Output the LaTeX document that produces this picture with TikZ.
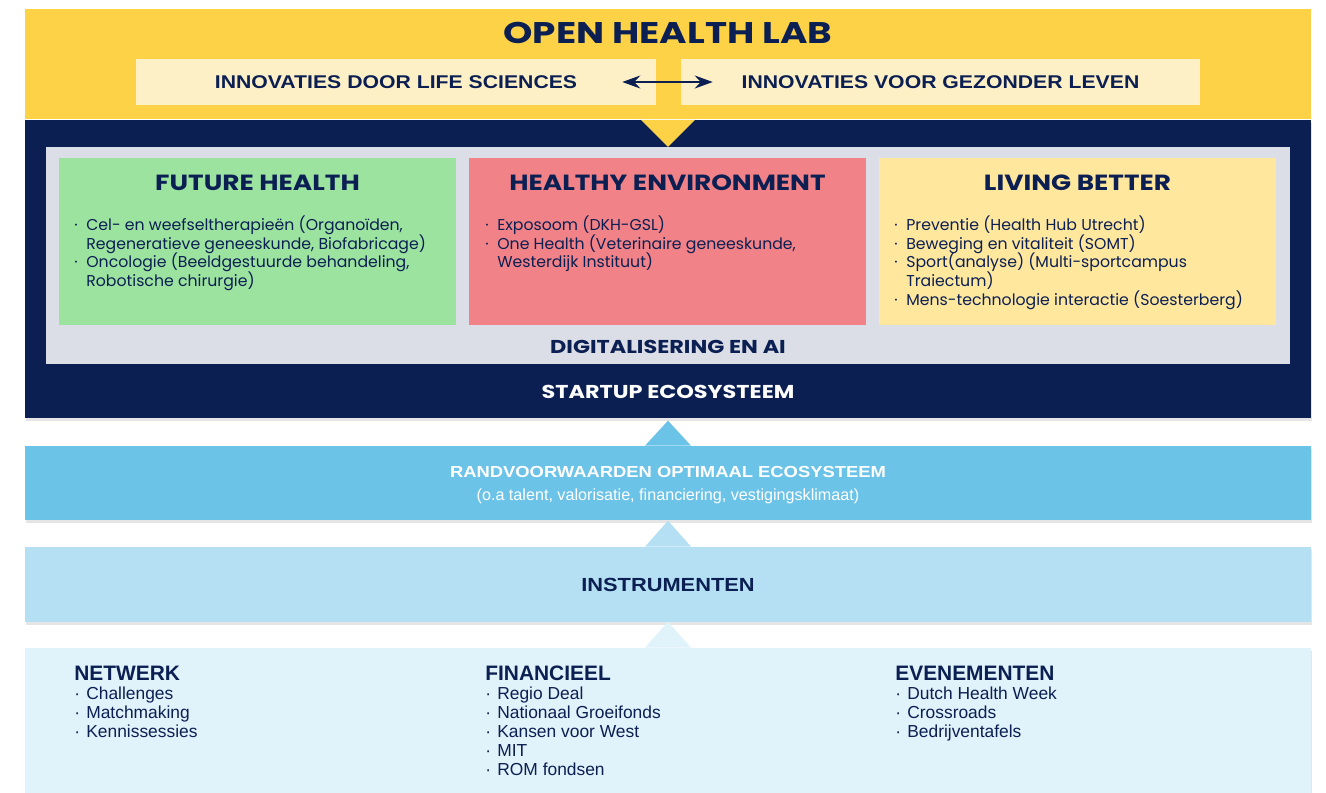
\documentclass[tikz,border=0pt]{standalone}
\usepackage{fontspec}
\setmainfont{Poppins}
\newfontfamily\kopfont[FakeStretch=1.2]{Poppins}
\newfontfamily\titelfont[FakeStretch=1.25]{Poppins}
\newfontfamily\smalfont{Liberation Sans}
\newfontfamily\breedfont[FakeStretch=1.15]{Liberation Sans}
\usetikzlibrary{arrows.meta,shadows}

\definecolor{ohlgeel}{HTML}{FDD247}
\definecolor{ohllichtgeel}{HTML}{FEF0C6}
\definecolor{ohlnavy}{HTML}{0B1F52}
\definecolor{ohlgrijs}{HTML}{DBDEE6}
\definecolor{ohlgroen}{HTML}{9DE3A0}
\definecolor{ohlrood}{HTML}{F18287}
\definecolor{ohlzand}{HTML}{FFE79E}
\definecolor{ohlblauw}{HTML}{6CC3E8}
\definecolor{ohlmidblauw}{HTML}{B5E0F3}
\definecolor{ohllichtblauw}{HTML}{E0F2FA}

\newcommand{\bul}{\makebox[0.24cm][l]{·}}
\newcommand{\ind}{\makebox[0.24cm]{}}
\newcommand{\krap}{\setlength{\lineskiplimit}{-20pt}}

\begin{document}
\begin{tikzpicture}[x=0.02cm,y=-0.02cm]

      \tikzset{blok/.style={rectangle, inner sep=0pt, draw=none},
               schaduw/.style={drop shadow={shadow xshift=0.02cm, shadow yshift=-0.06cm, opacity=0.1, fill=black}},
               titel/.style={font=\kopfont\bfseries\fontsize{12.5}{14}\selectfont, text=ohlnavy},
               punten/.style={anchor=north west, align=left, inner sep=0pt, text=ohlnavy, font=\krap\fontsize{8.95}{10.8}\selectfont},
               lijst/.style={anchor=north west, align=left, inner sep=0pt, text=ohlnavy, font=\smalfont\fontsize{9.9}{10.8}\selectfont}}
      \useasboundingbox (0,0) rectangle (1326,792);
      \clip (0,0) rectangle (1326,792);
% Blokken
	%Open Health Lab
      	\node[blok, fill=ohlnavy, minimum width=25.72cm, minimum height=5.98cm, schaduw] (eco) at (668,269) {};
      	\node[blok, fill=ohlgeel, minimum width=25.72cm, minimum height=2.22cm] (lab) at (668,64) {};
      	\fill[ohlgeel] ([xshift=-0.54cm]lab.south) -- ++(27,27) -- ++(27,-27) -- cycle;
      	\node[font=\titelfont\bfseries\fontsize{17}{19}\selectfont, text=ohlnavy] (labtitel) at (668,33) {OPEN HEALTH LAB};
      	\node[blok, fill=ohllichtgeel, minimum width=10.4cm, minimum height=0.92cm, text=ohlnavy, font=\breedfont\bfseries\fontsize{10.5}{12}\selectfont] (life) at (396,82) {INNOVATIES DOOR LIFE SCIENCES};
      	\node[blok, fill=ohllichtgeel, minimum width=10.38cm, minimum height=0.92cm, text=ohlnavy, font=\breedfont\bfseries\fontsize{10.5}{12}\selectfont] (gezond) at (940.5,82) {INNOVATIES VOOR GEZONDER LEVEN};
	%Thema's
      	\node[blok, fill=ohlgrijs, minimum width=24.88cm, minimum height=4.34cm] (panel) at (668,255.5) {};
      	\node[blok, fill=ohlgroen, minimum width=7.94cm, minimum height=3.34cm] (future) at (257.5,241.5) {};
      	\node[blok, fill=ohlrood, minimum width=7.94cm, minimum height=3.34cm] (environment) at (667.5,241.5) {};
      	\node[blok, fill=ohlzand, minimum width=7.94cm, minimum height=3.34cm] (living) at (1077.5,241.5) {};
      	\node[titel] (futuretitel) at (257.5,183) {FUTURE HEALTH};
      	\node[titel] (environmenttitel) at (667.5,183) {HEALTHY ENVIRONMENT};
      	\node[titel] (livingtitel) at (1077.5,183) {LIVING BETTER};
      	\node[punten] (futurelijst) at (74,215) {\bul Cel- en weefseltherapieën (Organoïden,\\ \ind Regeneratieve geneeskunde, Biofabricage)\\ \bul Oncologie (Beeldgestuurde behandeling,\\ \ind Robotische chirurgie)};
      	\node[punten] (environmentlijst) at (485,215) {\bul Exposoom (DKH-GSL)\\ \bul One Health (Veterinaire geneeskunde,\\ \ind Westerdijk Instituut)};
      	\node[punten] (livinglijst) at (894,215) {\bul Preventie (Health Hub Utrecht)\\ \bul Beweging en vitaliteit (SOMT)\\ \bul Sport(analyse) (Multi-sportcampus\\ \ind Traiectum)\\ \bul Mens-technologie interactie (Soesterberg)};
      	\node[font=\kopfont\bfseries\fontsize{10.6}{12}\selectfont, text=ohlnavy] (digi) at (668,347) {DIGITALISERING EN AI};
      	\node[font=\kopfont\bfseries\fontsize{10.6}{12}\selectfont, text=white] (startup) at (668,392) {STARTUP ECOSYSTEEM};
	%Randvoorwaarden
      	\node[blok, fill=ohlblauw, minimum width=25.72cm, minimum height=1.48cm, schaduw] (rand) at (668,483) {};
      	\fill[ohlblauw] ([xshift=-0.46cm]rand.north) -- ++(23,-25) -- ++(23,25) -- cycle;
      	\node[font=\breedfont\bfseries\fontsize{9.1}{11}\selectfont, text=white] (randtitel) at (668,472) {RANDVOORWAARDEN OPTIMAAL ECOSYSTEEM};
      	\node[font=\smalfont\fontsize{9.2}{10}\selectfont, text=white] (randsub) at (668,496) {(o.a talent, valorisatie, financiering, vestigingsklimaat)};
	%Instrumenten
      	\node[blok, fill=ohlmidblauw, minimum width=25.72cm, minimum height=1.5cm, schaduw] (instr) at (668,584.5) {};
      	\fill[ohlmidblauw] ([xshift=-0.46cm]instr.north) -- ++(23,-26) -- ++(23,26) -- cycle;
      	\node[font=\breedfont\bfseries\fontsize{10.8}{12}\selectfont, text=ohlnavy] (instrtitel) at (668,585) {INSTRUMENTEN};
      	\node[blok, fill=ohllichtblauw, minimum width=25.72cm, minimum height=3.2cm, schaduw] (middelen) at (668,728) {};
      	\fill[ohllichtblauw] ([xshift=-0.46cm]middelen.north) -- ++(23,-26) -- ++(23,26) -- cycle;
      	\node[lijst] (netwerk) at (74,666) {{\bfseries\fontsize{11.9}{12}\selectfont NETWERK}\\ \bul Challenges\\ \bul Matchmaking\\ \bul Kennissessies};
      	\node[lijst] (financieel) at (485,666) {{\bfseries\fontsize{11.9}{12}\selectfont FINANCIEEL}\\ \bul Regio Deal\\ \bul Nationaal Groeifonds\\ \bul Kansen voor West\\ \bul MIT\\ \bul ROM fondsen};
      	\node[lijst] (evenementen) at (895,666) {{\bfseries\fontsize{11.9}{12}\selectfont EVENEMENTEN}\\ \bul Dutch Health Week\\ \bul Crossroads\\ \bul Bedrijventafels};
%Pijlen
		\draw[{Stealth[length=0.36cm, width=0.26cm, inset=0.12cm]}-{Stealth[length=0.36cm, width=0.26cm, inset=0.12cm]}, ohlnavy, line width=1.1pt] ([xshift=-0.68cm]life.east) -- ([xshift=0.64cm]gezond.west);

	\end{tikzpicture}
\end{document}
